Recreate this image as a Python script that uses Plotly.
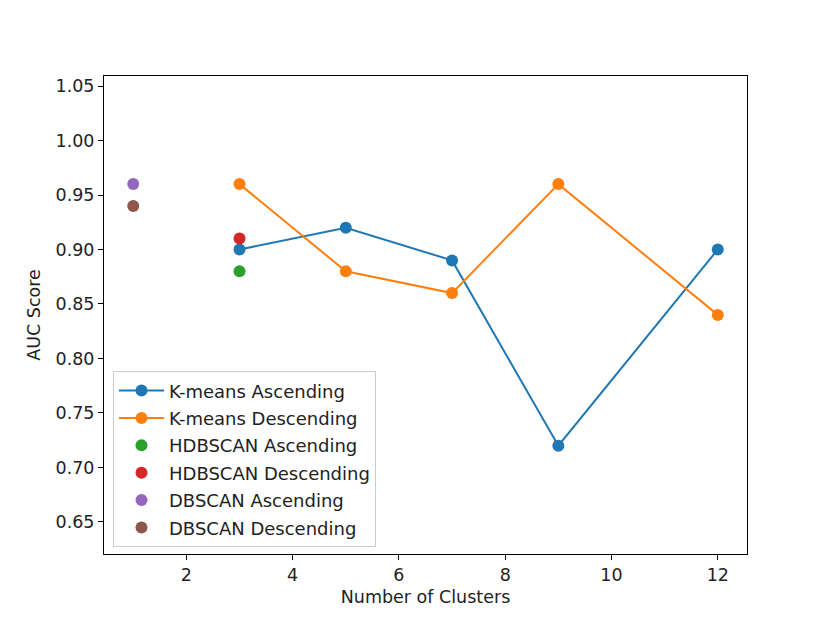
import plotly.graph_objects as go

clusters = [3, 5, 7, 9, 12]
kmeans_asc = [0.90, 0.92, 0.89, 0.72, 0.90]
kmeans_desc = [0.96, 0.88, 0.86, 0.96, 0.84]
hdbscan_x = [3]
hdbscan_asc = [0.88]
hdbscan_desc = [0.91]
dbscan_x = [1]
dbscan_asc = [0.96]
dbscan_desc = [0.94]

x_ticks = [2, 4, 6, 8, 10, 12]
y_ticks = [0.65, 0.70, 0.75, 0.80, 0.85, 0.90, 0.95, 1.00, 1.05]

C = ["#1f77b4", "#ff7f0e", "#2ca02c", "#d62728", "#9467bd", "#8c564b"]
MS = 12

fig = go.Figure()
fig.add_trace(go.Scatter(x=clusters, y=kmeans_asc, mode="lines+markers", name="K-means Ascending",
                         line=dict(color=C[0], width=2), marker=dict(size=MS, color=C[0]), legendgroup="a"))
fig.add_trace(go.Scatter(x=clusters, y=kmeans_desc, mode="lines+markers", name="K-means Descending",
                         line=dict(color=C[1], width=2), marker=dict(size=MS, color=C[1]), legendgroup="b"))
fig.add_trace(go.Scatter(x=hdbscan_x, y=hdbscan_asc, mode="markers", name="HDBSCAN Ascending",
                         marker=dict(size=MS, color=C[2]), legendgroup="c"))
fig.add_trace(go.Scatter(x=hdbscan_x, y=hdbscan_desc, mode="markers", name="HDBSCAN Descending",
                         marker=dict(size=MS, color=C[3]), legendgroup="d"))
fig.add_trace(go.Scatter(x=dbscan_x, y=dbscan_asc, mode="markers", name="DBSCAN Ascending",
                         marker=dict(size=MS, color=C[4]), legendgroup="e"))
fig.add_trace(go.Scatter(x=dbscan_x, y=dbscan_desc, mode="markers", name="DBSCAN Descending",
                         marker=dict(size=MS, color=C[5]), legendgroup="f"))

axis_common = dict(showline=True, linecolor="black", linewidth=1, mirror=True,
                   ticks="outside", ticklen=5, tickcolor="black", showgrid=False, zeroline=False,
                   tickfont=dict(size=17.5, color="#222222"))

fig.update_layout(
    width=830, height=623,
    margin=dict(l=96, r=91, t=68, b=77),
    paper_bgcolor="white", plot_bgcolor="white",
    font=dict(family="DejaVu Sans", size=17.5, color="#222222"),
    xaxis=dict(range=[0.45, 12.55], tickvals=x_ticks,
               title=dict(text="Number of Clusters", font=dict(size=17.5), standoff=6), **axis_common),
    yaxis=dict(range=[0.6206, 1.0592], tickvals=y_ticks, tickformat=".2f",
               title=dict(text="AUC Score", font=dict(size=17.5), standoff=10), **axis_common),
    legend=dict(x=0.014, y=0.014, xanchor="left", yanchor="bottom",
                bordercolor="#cccccc", borderwidth=1, bgcolor="rgba(255,255,255,0.8)",
                font=dict(size=18), traceorder="grouped", tracegroupgap=1, itemwidth=45),
)

fig.write_html("out.html")
